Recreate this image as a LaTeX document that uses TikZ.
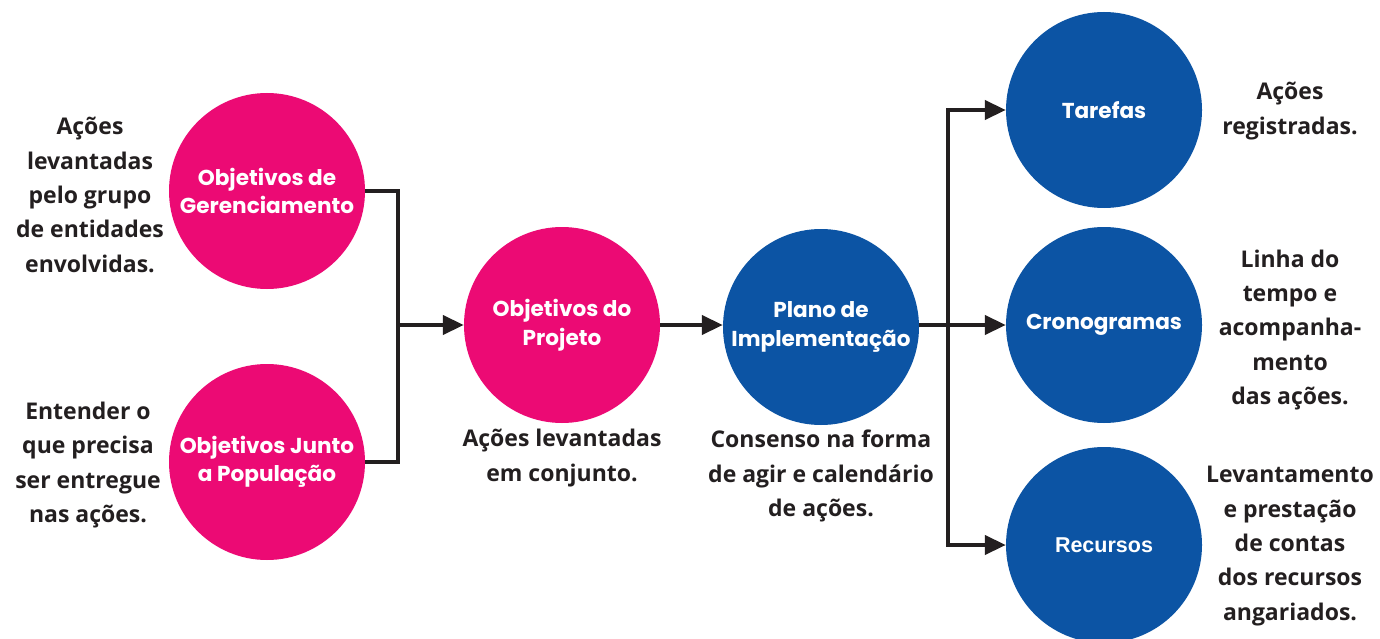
\documentclass[tikz,border=0pt]{standalone}
\usepackage{fontspec}
\setmainfont{Open Sans}
\newfontfamily\circfont{Poppins}
\newfontfamily\arialfont{Liberation Sans}
\usetikzlibrary{arrows.meta}
\definecolor{pinkc}{HTML}{EC0A74}
\definecolor{bluec}{HTML}{0C54A4}
\definecolor{ink}{HTML}{231F20}
\tikzset{
  pinkcirc/.style={circle, fill=pinkc, minimum size=196pt, inner sep=0pt, text=white, align=center, font=\circfont\bfseries\fontsize{21.6}{28.5}\selectfont},
  bluecirc/.style={circle, fill=bluec, minimum size=196pt, inner sep=0pt, text=white, align=center, font=\circfont\bfseries\fontsize{21.6}{28.5}\selectfont},
  sidetext/.style={text=ink, align=center, inner sep=0pt, font=\bfseries\fontsize{23}{34.4}\selectfont},
  conn/.style={draw=ink, line width=4pt},
  arr/.style={conn, -{Triangle[length=21pt,width=19pt]}},
}
\begin{document}
\begin{tikzpicture}[x=1pt,y=-1pt]
\fill[white] (0,0) rectangle (1380,639);
\useasboundingbox (0,0) rectangle (1380,639);

\node[pinkcirc] (ger) at (267,191) {Objetivos de\\Gerenciamento};
\node[pinkcirc] (pop) at (267,462) {Objetivos Junto\\a População};
\node[pinkcirc] (proj) at (562,325) {Objetivos do\\Projeto};
\node[bluecirc] (plano) at (821,327) {Plano de\\Implementação};
\node[bluecirc] (tar) at (1104,110) {Tarefas};
\node[bluecirc] (cro) at (1104,325) {Cronogramas};
\node[bluecirc, font=\arialfont\bfseries\fontsize{21.5}{24}\selectfont] (rec) at (1104,545) {Recursos};

\node[sidetext] (t1) at (90,195) {Ações\\levantadas\\pelo grupo\\de entidades\\envolvidas.};
\node[sidetext] (t2) at (88,465) {Entender o\\que precisa\\ser entregue\\nas ações.};
\node[sidetext] (t3) at (562,458) {Ações levantadas\\em conjunto.};
\node[sidetext] (t4) at (821,476) {Consenso na forma\\de agir e calendário\\de ações.};
\node[sidetext] (t5) at (1290,111) {Ações\\registradas.};
\node[sidetext] (t6) at (1290,330) {Linha do\\tempo e\\acompanha-\\mento\\das ações.};
\node[sidetext] (t7) at (1290,546) {Levantamento\\e prestação\\de contas\\dos recursos\\angariados.};

\coordinate (j1) at (398,325);
\coordinate (j2) at (948,325);
\draw[conn] (ger.east) -| (j1);
\draw[conn] (pop.east) -| (j1);
\draw[arr] (j1) -- (proj.west);
\draw[arr] (proj.east) -- (plano.west |- proj.east);
\draw[conn] (plano.east |- j2) -- (j2);
\draw[arr] (j2) |- (tar.west);
\draw[arr] (j2) -- (cro.west);
\draw[arr] (j2) |- (rec.west);
\end{tikzpicture}
\end{document}
